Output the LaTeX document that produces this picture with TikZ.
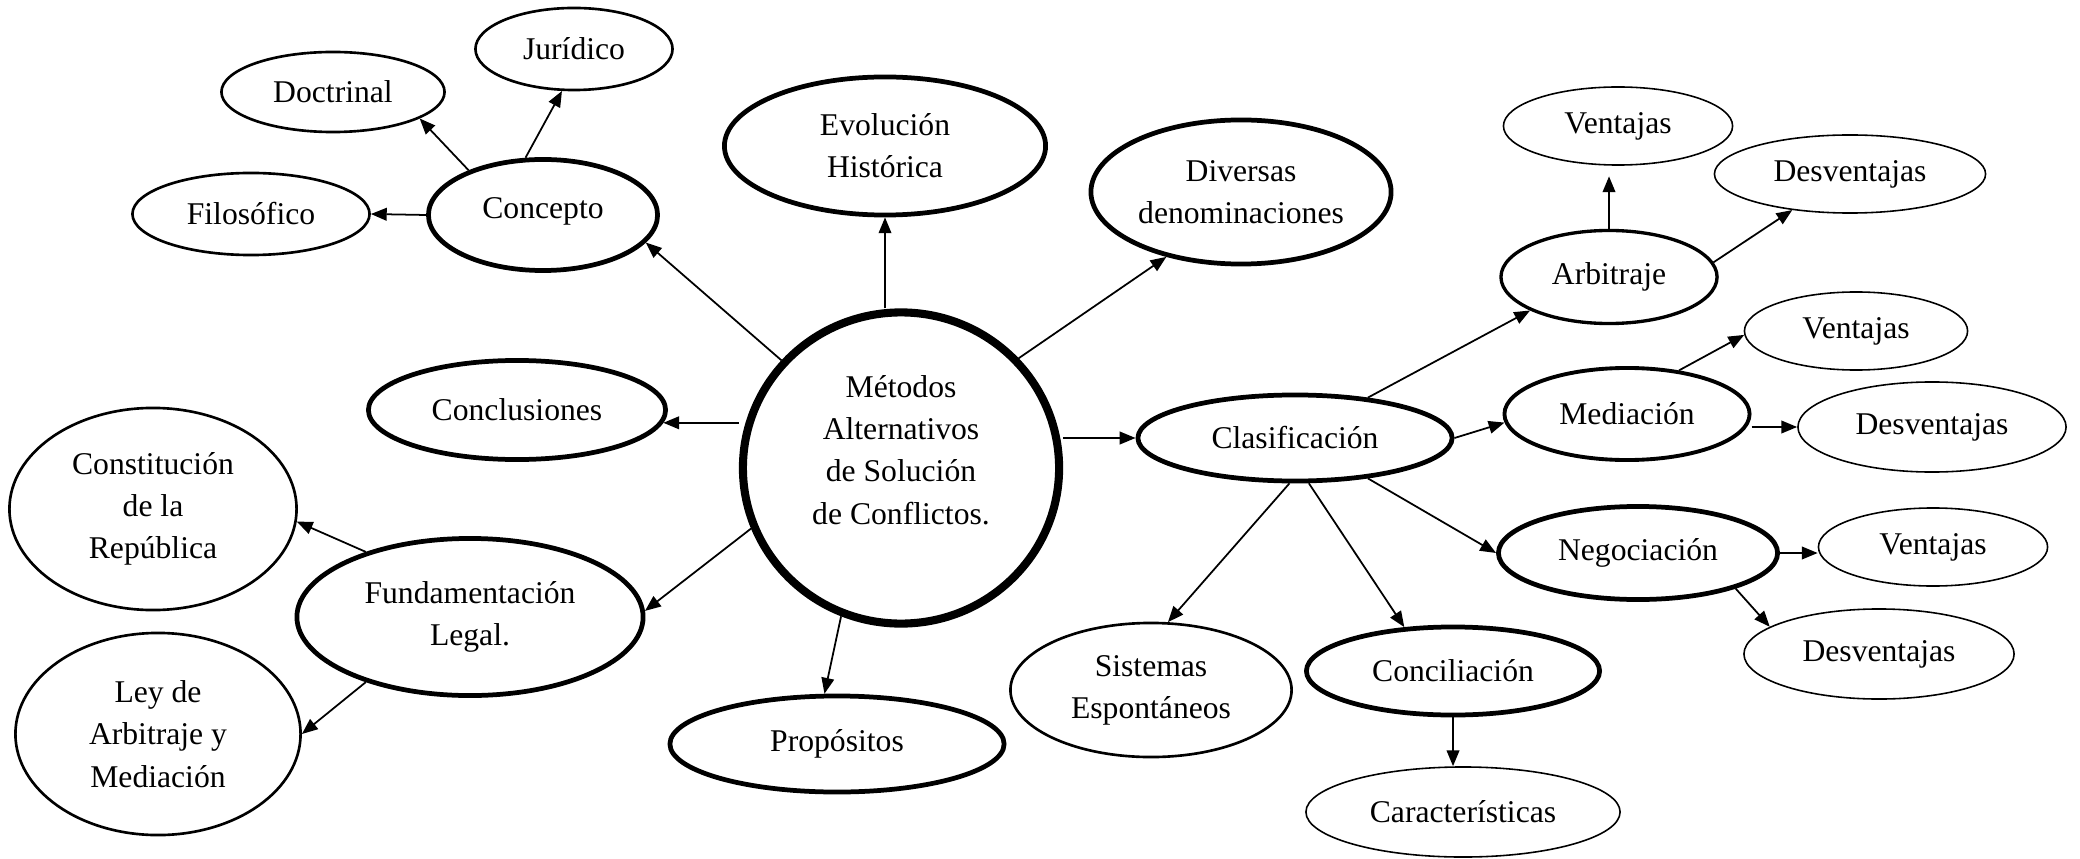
\documentclass[tikz,border=0pt]{standalone}
\usepackage{fontspec}
\setmainfont{Liberation Serif}
\usetikzlibrary{shapes.geometric, arrows.meta}

\tikzset{
    oval/.style={ellipse, draw, inner sep=0pt, align=center},
    hugebox/.style={oval, line width=2.3pt},
    thickbox/.style={oval, line width=1.35pt},
    midbox/.style={oval, line width=0.75pt},
    thinbox/.style={oval, line width=0.45pt},
    arr/.style={-{Triangle[length=4.5pt, width=3.6pt]}, line width=0.5pt}
}

\begin{document}
\begin{tikzpicture}[x=0.01cm, y=-0.01cm, font=\fontsize{9}{12}\selectfont]
    \useasboundingbox (0, 0) rectangle (2080, 858);

    % centre
    \node [hugebox, minimum width=3.16cm, minimum height=3.11cm] (metodos) at (901, 468) {};
    \node [align=center] (metodostxt) at (901, 450)
        {Métodos\\Alternativos\\de Solución\\de Conflictos.};

    % left side
    \node [thickbox, minimum width=2.29cm, minimum height=1.11cm] (concepto) at (543, 215) {Concepto\\[-8pt]};
    \node [midbox, minimum width=2.37cm, minimum height=0.82cm] (filos) at (251, 214) {Filosófico};
    \node [midbox, minimum width=2.23cm, minimum height=0.80cm] (doctr) at (333, 92) {Doctrinal};
    \node [midbox, minimum width=1.97cm, minimum height=0.82cm] (juri) at (574, 49) {Jurídico};
    \node [thickbox, minimum width=2.97cm, minimum height=0.99cm] (concl) at (517, 410) {Conclusiones};
    \node [thickbox, minimum width=3.46cm, minimum height=1.57cm] (fund) at (470, 617) {Fundamentación\\Legal.};
    \node [midbox, minimum width=2.87cm, minimum height=2.02cm] (const) at (153, 509) {Constitución\\de la\\República};
    \node [midbox, minimum width=2.85cm, minimum height=2.02cm] (ley) at (158, 734) {Ley de\\Arbitraje y\\Mediación};

    % top and bottom
    \node [thickbox, minimum width=3.21cm, minimum height=1.38cm] (evol) at (885, 146) {Evolución\\Histórica};
    \node [thickbox, minimum width=3.00cm, minimum height=1.44cm] (divers) at (1241, 192) {Diversas\\denominaciones};
    \node [thickbox, minimum width=3.34cm, minimum height=0.96cm] (prop) at (837, 744) {Propósitos};

    % right side
    \node [thickbox, minimum width=3.14cm, minimum height=0.86cm] (clasif) at (1295, 438) {Clasificación};
    \node [thickbox, line width=0.95pt, minimum width=2.16cm, minimum height=0.93cm] (arbit) at (1609, 277) {Arbitraje};
    \node [thinbox, minimum width=2.29cm, minimum height=0.78cm] (vent1) at (1618, 126) {Ventajas};
    \node [thinbox, minimum width=2.71cm, minimum height=0.78cm] (desv1) at (1850, 174) {Desventajas};
    \node [thickbox, line width=1.1pt, minimum width=2.45cm, minimum height=0.92cm] (medi) at (1627, 414) {Mediación};
    \node [thinbox, minimum width=2.23cm, minimum height=0.78cm] (vent2) at (1856, 331) {Ventajas};
    \node [thinbox, minimum width=2.68cm, minimum height=0.90cm] (desv2) at (1932, 427) {Desventajas};
    \node [thickbox, minimum width=2.79cm, minimum height=0.93cm] (negoc) at (1638, 553) {Negociación};
    \node [thinbox, minimum width=2.29cm, minimum height=0.78cm] (vent3) at (1933, 547) {Ventajas};
    \node [thinbox, minimum width=2.70cm, minimum height=0.90cm] (desv3) at (1879, 654) {Desventajas};
    \node [midbox, minimum width=2.81cm, minimum height=1.34cm] (sist) at (1151, 690) {Sistemas\\Espontáneos};
    \node [thickbox, minimum width=2.93cm, minimum height=0.88cm] (concil) at (1453, 671) {Conciliación};
    \node [thinbox, minimum width=3.14cm, minimum height=0.90cm] (caract) at (1463, 812) {Características};

    % arrows from the centre
    \draw [arr] (metodos.138.7) -- (concepto.-15.4);
    \draw [arr] (evol.south |- metodos.north) -- (evol.south);
    \draw [arr] (metodos.43.8) -- (divers.221.3);
    \draw [arr] (concl.-5 -| metodos.west) -- (concl.-5);
    \draw [arr] (metodos.east |- clasif.west) -- (clasif.west);
    \draw [arr] (metodos.202.6) -- (fund.2.9);
    \draw [arr] (metodos.248.9) -- (prop.104);

    % left branches
    \draw [arr] (concepto.west) -- (filos.east);
    \draw [arr] (concepto.149.5) -- (doctr.-17);
    \draw [arr] (concepto.107.5) -- (juri.254.4);
    \draw [arr] (fund.148) -- (const.-5.6);
    \draw [arr] (fund.212) -- (ley.0);

    % right branches
    \draw [arr] (clasif.29.8) -- (arbit.203);
    \draw [arr] (clasif.east) -- (medi.184);
    \draw [arr] (clasif.-29.7) -- (negoc.west);
    \draw [arr] (clasif.-97) -- (sist.76.3);
    \draw [arr] (clasif.-73.7) -- (concil.138);
    \draw [arr] (concil.south) -- (concil.south |- caract.north);
    \draw [arr, shorten >=3pt] (arbit.north) -- (arbit.north |- vent1.south);
    \draw [arr] (arbit.8.3) -- (desv1.212);
    \draw [arr] (medi.40.8) -- (vent2.182);
    \draw [arr] (medi.east |- desv2.west) -- (desv2.west);
    \draw [arr] (negoc.east) -- (negoc.east -| vent3.west);
    \draw [arr] (negoc.-20.2) -- (desv3.166.3);
\end{tikzpicture}
\end{document}
